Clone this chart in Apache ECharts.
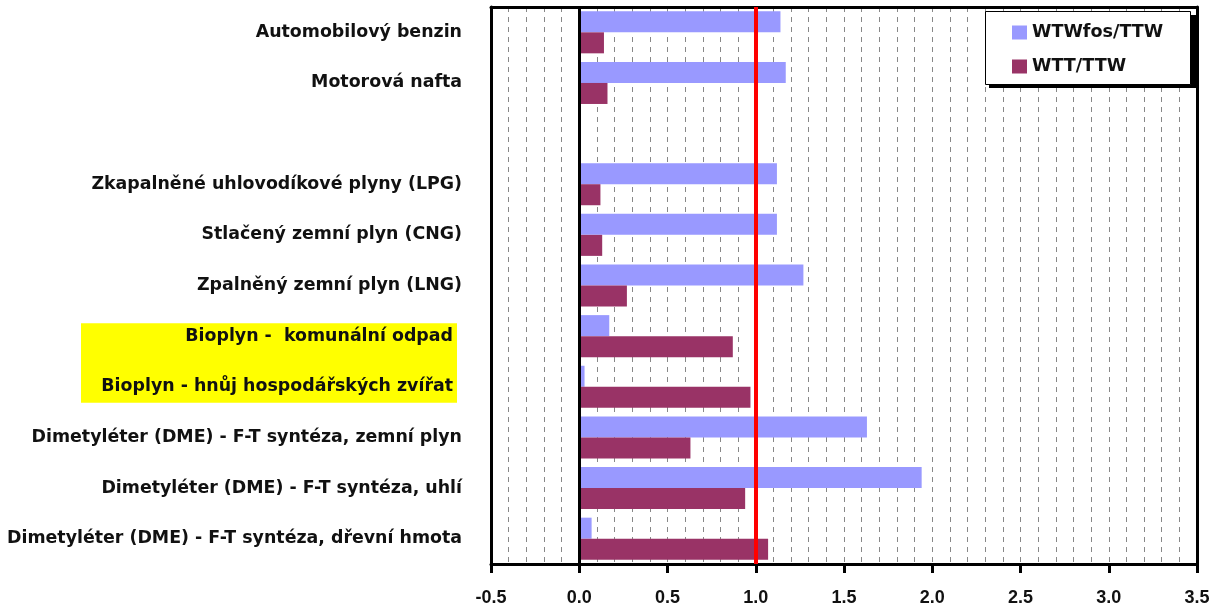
<!DOCTYPE html>
<html>
<head>
<meta charset="utf-8">
<script src="https://cdn.jsdelivr.net/npm/echarts@6/dist/echarts.min.js"></script>
<style>
  html, body { margin: 0; padding: 0; background: #fff; }
  #main { width: 1215px; height: 612px; }
</style>
</head>
<body>
<div id="main"></div>
<script>
// kategorie (prázdná položka = mezera mezi skupinami)
const categories = [
  'Automobilový benzin',
  'Motorová nafta',
  '',
  'Zkapalněné uhlovodíkové plyny (LPG)',
  'Stlačený zemní plyn (CNG)',
  'Zpalněný zemní plyn (LNG)',
  'Bioplyn -  komunální odpad',
  'Bioplyn - hnůj hospodářských zvířat',
  'Dimetyléter (DME) - F-T syntéza, zemní plyn',
  'Dimetyléter (DME) - F-T syntéza, uhlí',
  'Dimetyléter (DME) - F-T syntéza, dřevní hmota'
];
const wtwFos = [1.14, 1.17, null, 1.12, 1.12, 1.27, 0.17, 0.03, 1.63, 1.94, 0.07];
const wttTtw = [0.14, 0.16, null, 0.12, 0.13, 0.27, 0.87, 0.97, 0.63, 0.94, 1.07];
const seriesNames = ['WTWfos/TTW', 'WTT/TTW'];
const highlighted = ['Bioplyn -  komunální odpad', 'Bioplyn - hnůj hospodářských zvířat'];
const refValue = 1;

const FONT = 'DejaVu Sans';
const frame = { show: true, onZero: false, lineStyle: { color: '#000', width: 3 } };
let chart = echarts.init(document.getElementById('main'));

let option = {
  backgroundColor: '#fff',
  animation: false,
  textStyle: { fontFamily: FONT },
  grid: {
    left: 491,
    right: 18,
    top: 7,
    bottom: 48
  },
  legend: {
    orient: 'vertical',
    left: 985,
    top: 11,
    z: 10,
    padding: [11.5, 0, 0, 27],
    itemWidth: 15,
    itemHeight: 14,
    itemGap: 14,
    icon: 'rect',
    textStyle: { fontFamily: FONT, fontWeight: 'bold', fontSize: 17.6, lineHeight: 20, color: '#111' },
    data: seriesNames
  },
  xAxis: [
    {
      type: 'value',
      min: -0.5,
      max: 3.5,
      interval: 0.5,
      axisLine: frame,
      axisTick: { show: true, inside: false, length: 9, lineStyle: { color: '#000', width: 3 } },
      axisLabel: {
        margin: 25,
        fontFamily: 'Liberation Sans',
        fontWeight: 'bold',
        fontSize: 18,
        color: '#111',
        formatter: (v) => v.toFixed(1)
      },
      splitLine: { show: true, lineStyle: { color: '#888', type: [5, 5], width: 1 } },
      minorTick: { show: false, splitNumber: 5 },
      minorSplitLine: { show: true, lineStyle: { color: '#888', type: [5, 5], width: 1 } }
    },
    {
      type: 'value',
      position: 'top',
      min: -0.5,
      max: 3.5,
      axisLine: frame,
      axisTick: { show: false },
      axisLabel: { show: false },
      splitLine: { show: false }
    }
  ],
  yAxis: [
    {
      type: 'category',
      inverse: true,
      data: categories,
      axisLine: frame,
      axisTick: { show: false },
      axisLabel: {
        margin: 29,
        fontFamily: FONT,
        fontWeight: 'bold',
        fontSize: 17.4,
        color: '#111',
        formatter: (v) => (highlighted.includes(v) ? '{hl|' + v + '}{sp|}' : v),
        rich: {
          hl: { fontFamily: FONT, fontWeight: 'bold', fontSize: 17.4, color: '#111' },
          sp: { width: 9 }
        }
      }
    },
    {
      type: 'value',
      position: 'right',
      min: 0,
      max: 1,
      axisLine: frame,
      axisTick: { show: false },
      axisLabel: { show: false },
      splitLine: { show: false }
    }
  ],
  series: [
    {
      name: seriesNames[0],
      type: 'bar',
      data: wtwFos,
      barGap: 0,
      barCategoryGap: '17%',
      itemStyle: { color: '#9999ff' },
      markLine: {
        silent: true,
        symbol: 'none',
        label: { show: false },
        data: [
          { xAxis: 0, lineStyle: { color: '#000', width: 3, type: 'solid' } },
          { xAxis: refValue, lineStyle: { color: '#ff0000', width: 4, type: 'solid' } }
        ]
      }
    },
    {
      name: seriesNames[1],
      type: 'bar',
      data: wttTtw,
      itemStyle: { color: '#993366' }
    }
  ]
};
chart.setOption(option);

// žluté zvýraznění popisků bioplynu a rámeček legendy se stínem
let yTop = chart.convertToPixel({ yAxisIndex: 0 }, highlighted[0]) - 13;
let yBot = chart.convertToPixel({ yAxisIndex: 0 }, highlighted[1]) + 16;
chart.setOption({
  graphic: [
    {
      type: 'rect',
      z: -1,
      shape: { x: 81, y: yTop, width: 376, height: yBot - yTop },
      style: { fill: '#ffff00' }
    },
    {
      type: 'rect',
      z: 8,
      shape: { x: 989, y: 15, width: 208, height: 73 },
      style: { fill: '#000' }
    },
    {
      type: 'rect',
      z: 9,
      shape: { x: 985.5, y: 11.5, width: 205, height: 73 },
      style: { fill: '#fff', stroke: '#000', lineWidth: 1 }
    }
  ]
});
</script>
</body>
</html>
